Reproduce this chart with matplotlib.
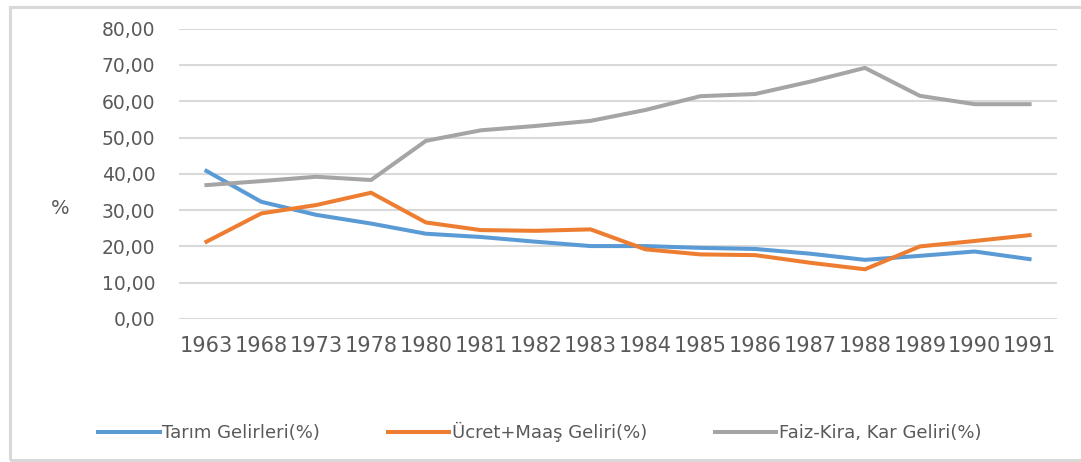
import numpy as np
from matplotlib import pyplot as plt
from matplotlib.patches import Rectangle

years = ["1963", "1968", "1973", "1978", "1980", "1981", "1982", "1983",
         "1984", "1985", "1986", "1987", "1988", "1989", "1990", "1991"]
tarim = [40.8, 32.3, 28.7, 26.3, 23.5, 22.6, 21.3, 20.1,
         20.1, 19.6, 19.3, 18.0, 16.3, 17.4, 18.6, 16.5]
ucret = [21.3, 29.1, 31.4, 34.8, 26.6, 24.5, 24.3, 24.7,
         19.2, 17.8, 17.6, 15.5, 13.7, 20.0, 21.5, 23.1]
faiz = [36.9, 38.0, 39.2, 38.3, 49.1, 52.0, 53.2, 54.6,
        57.6, 61.4, 62.0, 65.4, 69.2, 61.5, 59.2, 59.2]
yticks = [0, 10, 20, 30, 40, 50, 60, 70, 80]

txt = '#595959'
plt.rcParams['font.family'] = ['DejaVu Sans']

fig = plt.figure(figsize=(10.81, 4.62), dpi=100)
ax = fig.add_axes([179/1081, 1 - 319/462, (1057 - 179)/1081, (319 - 28.7)/462])

x = np.arange(len(years))
l1, = ax.plot(x, tarim, color='#5B9BD5', lw=2.9, label='Tarım Gelirleri(%)')
l2, = ax.plot(x, ucret, color='#ED7D31', lw=2.9, label='Ücret+Maaş Geliri(%)')
l3, = ax.plot(x, faiz, color='#A5A5A5', lw=2.9, label='Faiz-Kira, Kar Geliri(%)')

ax.set_xlim(-0.5, len(years) - 0.5)
ax.set_ylim(0, 80)
ax.set_yticks(yticks)
ax.set_yticklabels([f"{v:.2f}".replace('.', ',') for v in yticks])
ax.set_xticks(x)
ax.set_xticklabels(years)
ax.grid(axis='y', color='#D9D9D9', lw=1.5)
ax.set_axisbelow(True)
for s in ax.spines.values():
    s.set_visible(False)
ax.tick_params(axis='y', length=0, pad=17, labelsize=13.5, labelcolor=txt)
ax.tick_params(axis='x', length=0, pad=12, labelsize=15, labelcolor=txt)

fig.text(60/1081, 1 - 208/462, '%', fontsize=14, color=txt, ha='center', va='center')

fig.legend(handles=[l1, l2, l3], loc='center', bbox_to_anchor=(540/1081, 1 - 432/462),
           ncol=3, frameon=False, fontsize=13, handlelength=3.4, handletextpad=0.15,
           columnspacing=3.75, labelcolor=txt)

fig.patches.append(Rectangle((10/1081, 1 - 460/462), 1.1, (460 - 7)/462,
                             transform=fig.transFigure, fill=False,
                             edgecolor='#D9D9D9', lw=2.2))

plt.savefig('out.png', dpi=100)
